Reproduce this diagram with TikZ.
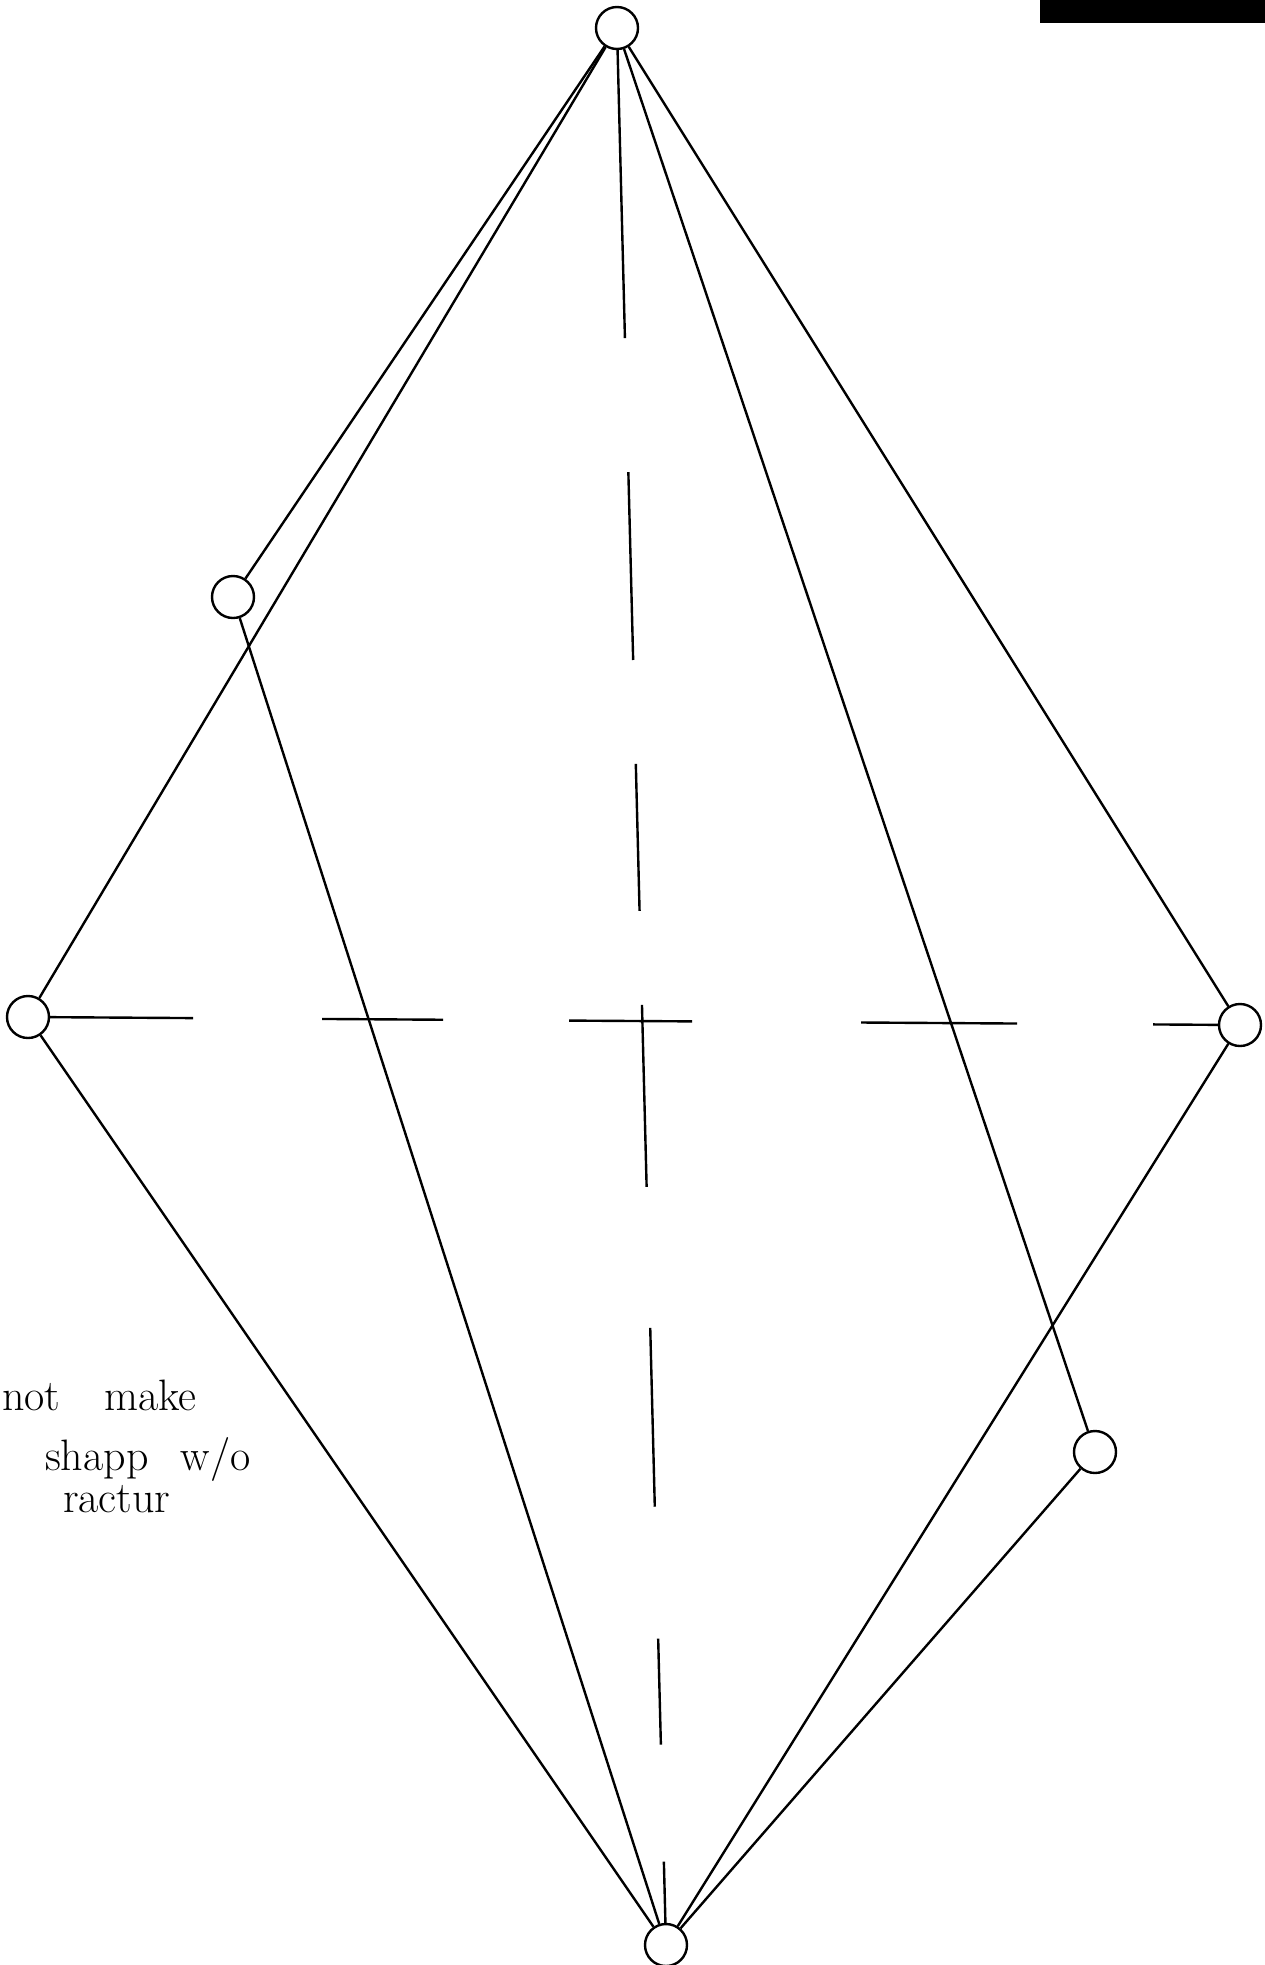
\documentclass[tikz,border=0pt]{standalone}
\usepackage{fontspec}
\begin{document}
\begin{tikzpicture}[x=1pt,y=-1pt,
  vtx/.style={circle,draw,line width=2.4pt,minimum size=42pt,inner sep=0pt},
  edge/.style={line width=2.4pt},
  axisv/.style={line width=2.4pt,dash pattern=on 288pt off 134pt on 188pt off 104pt on 147pt off 94pt on 182pt off 141pt on 179pt off 132pt on 106pt off 117pt on 80pt},
  axish/.style={line width=2.4pt,dash pattern=on 143pt off 129pt on 121pt off 126pt on 123pt off 169pt on 156pt off 136pt on 80pt},
  note/.style={anchor=base west,inner sep=0pt,font=\fontsize{44}{52}\selectfont}]
\useasboundingbox (0,0) rectangle (1265,1965);
\fill[white] (0,0) rectangle (1265,1965);
\fill[black] (1040,0) rectangle (1265,23);

\node[vtx] (top) at (617,28) {};
\node[vtx] (lu) at (233,597) {};
\node[vtx] (left) at (28,1017) {};
\node[vtx] (right) at (1240,1025) {};
\node[vtx] (rl) at (1095,1452) {};
\node[vtx] (bot) at (666,1945) {};

\draw[edge] (top) -- (lu);
\draw[edge] (top) -- (left);
\draw[edge] (top) -- (rl);
\draw[edge] (top) -- (right);
\draw[edge] (lu) -- (bot);
\draw[edge] (left) -- (bot);
\draw[edge] (right) -- (bot);
\draw[edge] (rl) -- (bot);

\draw[axisv] (top) -- (bot);
\draw[axish] (left) -- (right);

\node[note] (n1) at (2,1410) {not\hspace{44pt}make};
\node[note] (n2) at (45,1470) {shapp\hspace{32pt}w/o};
\node[note] (n3) at (63,1512) {ractur};
\end{tikzpicture}
\end{document}
